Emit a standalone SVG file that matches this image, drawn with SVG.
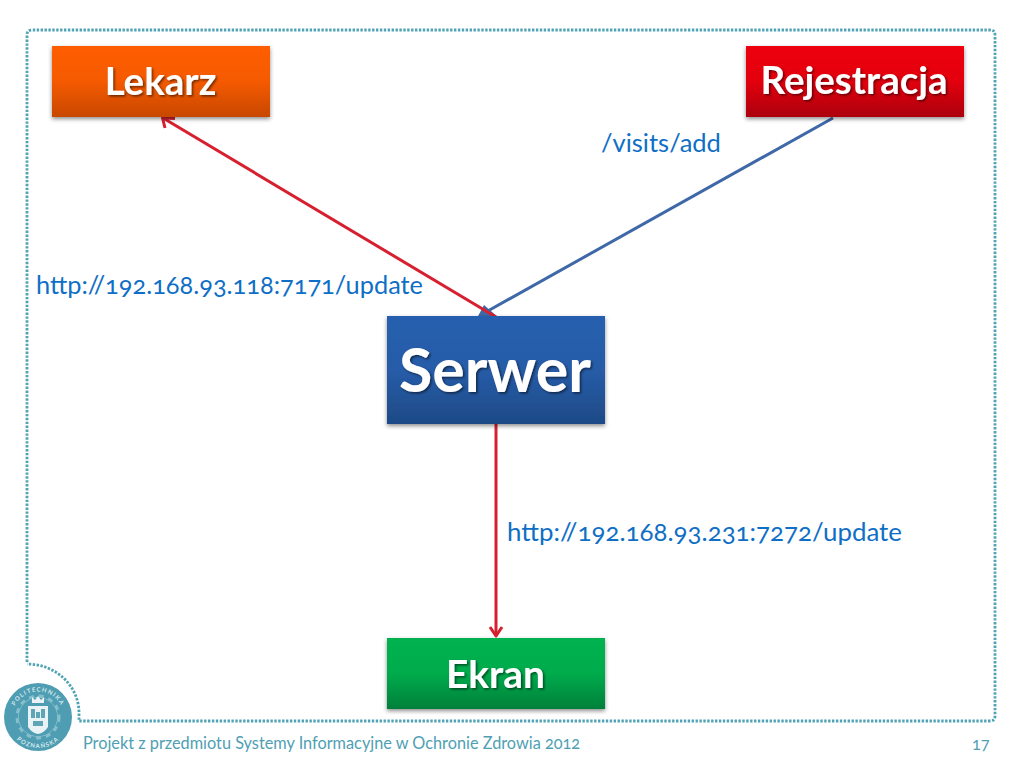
<svg xmlns="http://www.w3.org/2000/svg" xmlns:xlink="http://www.w3.org/1999/xlink" width="1024" height="768" viewBox="0 0 1024 768">
<style>
.frame{fill:none;stroke:#4fa3b5;stroke-width:2.8;stroke-dasharray:2.4 1.5}
.box{filter:url(#sh)}
.t{font-family:"Lato","Carlito","Liberation Sans",sans-serif;font-weight:700;fill:#fff;text-anchor:middle;filter:url(#ts)}
.lab{font-family:"Lato","Liberation Sans",sans-serif;font-size:25.5px;fill:#0f6fc6;font-feature-settings:"onum"}
.foot{font-family:"Lato","Liberation Sans",sans-serif;font-size:16.3px;fill:#4fa0b3;font-feature-settings:"onum"}
.red{fill:none;stroke:#d7202f;stroke-width:3;stroke-linejoin:round}
.blue{fill:none;stroke:#3f68a8;stroke-width:3}
.logo{font-family:"Lato","Liberation Sans",sans-serif;font-size:6px;font-weight:700;fill:#d5e9ee;letter-spacing:1.1px;text-anchor:middle}
</style>
<defs>
<linearGradient id="go" x1="0" y1="0" x2="0" y2="1"><stop offset="0" stop-color="#ff5d00"/><stop offset=".5" stop-color="#f55a00"/><stop offset="1" stop-color="#c84800"/></linearGradient>
<linearGradient id="gr" x1="0" y1="0" x2="0" y2="1"><stop offset="0" stop-color="#ee0010"/><stop offset=".5" stop-color="#e30010"/><stop offset="1" stop-color="#ac000c"/></linearGradient>
<linearGradient id="gb" x1="0" y1="0" x2="0" y2="1"><stop offset="0" stop-color="#265fae"/><stop offset=".5" stop-color="#265ca8"/><stop offset="1" stop-color="#1e4a86"/></linearGradient>
<linearGradient id="gg" x1="0" y1="0" x2="0" y2="1"><stop offset="0" stop-color="#00b24f"/><stop offset=".5" stop-color="#00ab4c"/><stop offset="1" stop-color="#00803a"/></linearGradient>
<filter id="sh" x="-10%" y="-10%" width="120%" height="125%"><feDropShadow dx="0" dy="2" stdDeviation="2" flood-color="#000" flood-opacity=".45"/></filter>
<filter id="ts" x="-10%" y="-10%" width="120%" height="130%"><feDropShadow dx="1.5" dy="1.5" stdDeviation="1" flood-color="#000" flood-opacity=".55"/></filter>
<path id="arcT" d="M12.500 717A25.500 25.500 0 0 1 63.500 717"/>
<path id="arcB" d="M7 717A31 31 0 0 0 69 717"/>
</defs>
<path class="frame" d="M27 662V35Q27 30 32 30H990Q995 30 995 35V716Q995 721 990 721H79V713C79 686 56 664 27 664"/>
<g id="connectors">
<path class="blue" d="M833 118L486 312"/>
<path d="M477 318L484 305L499 318Z" fill="#3f68a8"/>
<path class="red" d="M496 317L163 118"/>
<path class="red" d="M165 128L162.500 118L175 118.500"/>
<path class="red" d="M496 424V635"/>
<path class="red" d="M490 627L496 636L502 627"/>
</g>
<g id="lekarz"><rect class="box" x="52" y="46" width="218" height="71" fill="url(#go)"/><text class="t" x="160.500" y="95" font-size="38.500">Lekarz</text></g>
<g id="rejestracja"><rect class="box" x="746" y="46" width="218" height="71" fill="url(#gr)"/><text class="t" x="854" y="94" font-size="38.500">Rejestracja</text></g>
<g id="serwer"><rect class="box" x="387" y="316" width="218" height="108" fill="url(#gb)"/><text class="t" x="495" y="392" font-size="60.800">Serwer</text></g>
<g id="ekran"><rect class="box" x="387" y="638" width="218" height="71" fill="url(#gg)"/><text class="t" x="495.500" y="688" font-size="38.800">Ekran</text></g>
<text class="lab" x="601" y="152">/visits/add</text>
<text class="lab" x="36" y="294" textLength="387" lengthAdjust="spacingAndGlyphs">http://192.168.93.118:7171/update</text>
<text class="lab" x="507" y="541" textLength="395" lengthAdjust="spacingAndGlyphs">http://192.168.93.231:7272/update</text>
<g id="logo">
<circle cx="38" cy="717" r="34" fill="#4f9db2"/>
<circle cx="38" cy="717" r="19.500" fill="none" stroke="#86bfcd" stroke-width="1"/>
<circle cx="38" cy="717" r="21" fill="none" stroke="#86bfcd" stroke-width="3" stroke-dasharray="5 4.900"/>
<circle cx="38" cy="717" r="19" fill="#4f9db2"/>
<path d="M28 706H48V727Q44 733 38 734Q32 733 28 727Z" fill="#e9f3f5"/>
<path d="M32 697L35 700L38 696L41 700L44 697V703H32Z" fill="#e9f3f5"/>
<path d="M31 709h4v9h-4zM41 709h4v9h-4zM36 712h4v6h-4zM33 721h10v5h-10z" fill="#5fa5b8"/>
<text class="logo"><textPath xlink:href="#arcT" startOffset="50%">POLITECHNIKA</textPath></text>
<text class="logo"><textPath xlink:href="#arcB" startOffset="50%">POZNAŃSKA</textPath></text>
</g>
<text class="foot" x="83" y="749">Projekt z przedmiotu Systemy Informacyjne w Ochronie Zdrowia 2012</text>
<text class="foot" x="972" y="750" font-size="15">17</text>
</svg>
